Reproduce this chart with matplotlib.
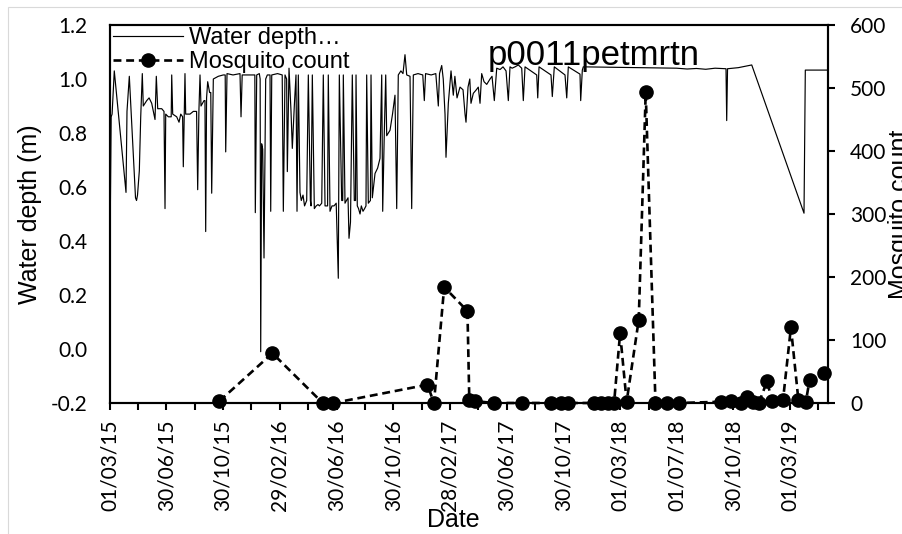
import numpy as np
import pandas as pd
import matplotlib
matplotlib.use('Agg')
import matplotlib.pyplot as plt
from matplotlib.patches import Rectangle

plt.rcParams['font.family'] = ['Lato', 'DejaVu Sans']
plt.rcParams['axes.unicode_minus'] = False

# logger record: days since 1 March 2015 and water depth (m)
start = pd.Timestamp('2015-03-01')
depth_day = [
    0.5, 2.5, 4.5, 9.2, 34.4, 36.5, 41.5, 54.8, 57, 59.1,
    63, 66, 69.4, 71.5, 78.9, 84, 89.6, 96.7, 99.5, 102.5,
    111.1, 116, 118.2, 119.7, 125.3, 131.5, 132.6, 134.7, 143.3, 148.3,
    152, 156, 157.5, 159.5, 161.1, 162.6, 171.9, 179, 186, 188.4,
    191, 193.4, 195.5, 202, 204, 205.6, 207.5, 209.9, 214, 216.5,
    218.5, 222, 232.7, 243.4, 247.5, 248.6, 251.4, 264.3, 279.3, 281.5,
    284, 300.8, 309.4, 311.2, 312.2, 315.2, 320.8, 322.6, 323.8, 325.8,
    328.1, 330.9, 334.5, 338, 343.8, 345.3, 347.5, 360, 370, 372.4,
    376, 379.5, 381, 384.6, 388.9, 391.7, 396, 399.6, 401.8, 404.6,
    408.2, 411, 414.7, 418, 422.6, 426.1, 430.5, 431.9, 434.7, 439,
    443, 446.9, 450, 454.9, 458.3, 462, 467.5, 469, 472.7, 477,
    481.3, 486, 490.5, 492.7, 497.8, 500, 501.3, 504.9, 508, 511.4,
    513.5, 516.7, 520.6, 524.9, 527.5, 528.6, 531.3, 534, 537.2, 540,
    543.6, 547, 550, 551.5, 555, 559.5, 560.8, 563.6, 569.4, 575,
    580.1, 583.8, 585.9, 589.4, 592.4, 594.5, 601.6, 607, 612.3, 616,
    619.4, 625, 629.5, 633.8, 637.5, 644.6, 648.2, 651.7, 661.8, 672,
    675.3, 678, 690, 700, 705.4, 708, 712.7, 716, 719.8, 721.9,
    726.9, 732.7, 737.6, 741, 745.6, 752, 758.5, 762.8, 764.9, 769.2,
    773, 775.6, 780.6, 787, 791.3, 795, 798.6, 803.6, 809.4, 816.5,
    820.8, 825.7, 830.9, 838, 844.4, 850.9, 855.8, 859.4, 864, 870.2,
    877.3, 884.6, 888, 891.7, 916.8, 919, 921.8, 947.5, 950.3, 954.6,
    977.6, 981.3, 984.7, 1009.8, 1011.3, 1014.8, 1016.9, 1217.6, 1240, 1260,
    1280, 1300, 1323.5, 1325, 1326.8, 1350, 1378.8, 1491.1, 1493.9, 1542,
]
depth_m = [
    0.47, 0.86, 0.87, 1.03, 0.58, 0.88, 1.01, 0.56, 0.55, 0.57,
    0.66, 0.86, 1.02, 0.90, 0.92, 0.93, 0.91, 0.85, 1.01, 0.89,
    0.89, 0.88, 0.52, 0.87, 0.86, 0.86, 1.015, 0.87, 0.86, 0.84,
    0.87, 0.86, 0.675, 0.87, 1.02, 0.87, 0.87, 0.88, 0.88, 0.59,
    0.88, 1.015, 0.90, 0.92, 0.92, 0.435, 0.93, 0.99, 0.95, 0.95,
    0.577, 1.0, 1.01, 1.015, 1.015, 0.73, 1.02, 1.015, 1.02, 0.86,
    1.015, 1.015, 1.015, 1.015, 0.505, 1.015, 1.02, 1.0, -0.01, 0.76,
    0.74, 0.337, 1.0, 1.015, 1.015, 0.51, 1.015, 1.02, 1.015, 0.51,
    1.015, 1.0, 0.657, 1.04, 0.88, 0.743, 0.90, 1.015, 0.51, 1.015,
    0.58, 0.55, 0.57, 0.53, 0.55, 1.015, 0.55, 0.53, 1.015, 0.52,
    0.53, 0.535, 0.53, 0.54, 1.015, 0.53, 0.53, 1.015, 0.51, 0.53,
    0.53, 0.54, 0.262, 1.015, 0.55, 0.55, 1.015, 0.54, 0.55, 0.56,
    0.41, 0.47, 1.015, 0.55, 0.55, 1.015, 0.53, 0.52, 0.50, 0.53,
    0.51, 0.52, 0.53, 1.015, 0.54, 0.55, 1.015, 0.56, 0.65, 0.67,
    0.706, 1.015, 0.51, 0.805, 1.015, 0.79, 0.81, 0.87, 0.94, 0.52,
    1.015, 1.03, 1.02, 1.09, 1.015, 1.01, 0.52, 1.015, 1.02, 1.015,
    0.92, 1.02, 1.015, 1.02, 0.90, 1.02, 1.05, 1.0, 0.87, 0.71,
    0.91, 1.03, 0.94, 1.01, 0.93, 0.97, 0.96, 0.87, 0.84, 0.97,
    1.0, 0.91, 0.947, 0.96, 0.97, 0.91, 1.02, 0.99, 0.98, 1.0,
    1.01, 0.92, 1.04, 1.035, 1.045, 1.03, 0.92, 1.045, 1.04, 1.045,
    1.052, 1.04, 0.92, 1.045, 1.015, 0.93, 1.045, 1.015, 0.935, 1.045,
    1.015, 0.93, 1.045, 1.018, 0.92, 1.033, 1.045, 1.04, 1.037, 1.039,
    1.036, 1.04, 1.038, 0.846, 1.038, 1.042, 1.052, 0.503, 1.033, 1.033,
]

# trap collections
mosq_dates = [
    '2015-10-22', '2016-02-13', '2016-05-31', '2016-06-23', '2017-01-11',
    '2017-01-25', '2017-02-16', '2017-04-07', '2017-04-11', '2017-04-24',
    '2017-06-02', '2017-08-03', '2017-10-03', '2017-10-24', '2017-11-09',
    '2018-01-04', '2018-01-20', '2018-02-02', '2018-02-16', '2018-03-01',
    '2018-03-15', '2018-04-10', '2018-04-25', '2018-05-16', '2018-06-09',
    '2018-07-06', '2018-10-03', '2018-10-25', '2018-11-15', '2018-11-28',
    '2018-12-12', '2018-12-24', '2019-01-11', '2019-01-21', '2019-02-14',
    '2019-03-03', '2019-03-19', '2019-04-04', '2019-04-12', '2019-05-12',
]
mosq_count = [
    3, 79, 0, 0, 29, 0, 184, 146, 4, 3,
    0, 0, 0, 0, 0, 0, 0, 0, 0, 111,
    2, 132, 493, 0, 0, 0, 2, 3, 0, 9,
    2, 0, 35, 3, 5, 120, 5, 2, 36, 47,
]

tick_labels = ['01/03/15', '30/06/15', '30/10/15', '29/02/16', '30/06/16',
               '30/10/16', '28/02/17', '30/06/17', '30/10/17', '01/03/18',
               '01/07/18', '30/10/18', '01/03/19']
depth_ticks = [-0.2, 0.0, 0.2, 0.4, 0.6, 0.8, 1.0, 1.2]
count_ticks = [0, 100, 200, 300, 400, 500, 600]

depth_dates = start + pd.to_timedelta(depth_day, unit='D')
mosq_dates = pd.to_datetime(mosq_dates)
tick_pos = pd.to_datetime(tick_labels, format='%d/%m/%y')

W, H = 903, 534
fig = plt.figure(figsize=(W / 100, H / 100), dpi=100)
ax = fig.add_axes([110 / W, 1 - 403 / H, (827.7 - 110) / W, (403 - 25) / H])
ax2 = ax.twinx()

l1, = ax.plot(depth_dates, depth_m, color='black', lw=0.85)
l2, = ax2.plot(mosq_dates, mosq_count, color='black', lw=1.9,
               linestyle=(0, (3, 1.8)), marker='o', markersize=9.5,
               clip_on=False)

ax.set_xlim(start, pd.Timestamp('2019-05-21'))
ax.set_ylim(-0.2, 1.2)
ax2.set_ylim(0, 600)

# major ticks on the labelled dates, minor ticks half way between
tnum = matplotlib.dates.date2num(tick_pos)
minor = list((tnum[:-1] + tnum[1:]) / 2) + [tnum[-1] + (tnum[-1] - tnum[-2]) / 2]
ax.set_xticks(tick_pos)
ax.set_xticklabels(tick_labels, rotation=90)
ax.set_xticks(minor, minor=True)

ax.set_yticks(depth_ticks)
ax.set_yticklabels([f'{v:.1f}' for v in depth_ticks])
ax2.set_yticks(count_ticks)

ax.tick_params(axis='x', which='both', direction='out', length=5,
               width=1.5, pad=7, labelsize=15)
ax.tick_params(axis='y', length=0, pad=16, labelsize=15)
ax2.tick_params(axis='y', direction='out', length=5, width=1.5, pad=11,
                labelsize=15)

for a in (ax, ax2):
    for s in a.spines.values():
        s.set_linewidth(1.5)
        s.set_color('black')

arial = 'Liberation Sans'
fig.text(593.5 / W, 1 - 65 / H, 'p0011petmrtn', ha='center', va='baseline',
         family=arial, size=25)
fig.text(453 / W, 1 - 527 / H, 'Date', ha='center', va='baseline',
         family=arial, size=18)
fig.text(18 / W, 1 - 214 / H, 'Water depth (m)', rotation=90, ha='left',
         va='center', family=arial, size=18)
fig.text(888 / W, 1 - 214 / H, 'Mosquito count', rotation=90, ha='left',
         va='center', family=arial, size=18)

fig.legend(handles=[l1, l2], labels=['Water depth\u2026', 'Mosquito count'],
           loc='upper left', bbox_to_anchor=(113 / W, 1 - 27 / H),
           frameon=False, borderpad=0, borderaxespad=0, handlelength=2.95,
           handletextpad=0.26, labelspacing=0.1,
           prop={'family': arial, 'size': 17})

# chart area outline
fig.patches.append(Rectangle((8 / W, -0.1), 1.2, 1 - 7 / H + 0.1,
                             transform=fig.transFigure, fill=False,
                             edgecolor='#d9d9d9', lw=0.8))

fig.savefig('out.png', dpi=100)
